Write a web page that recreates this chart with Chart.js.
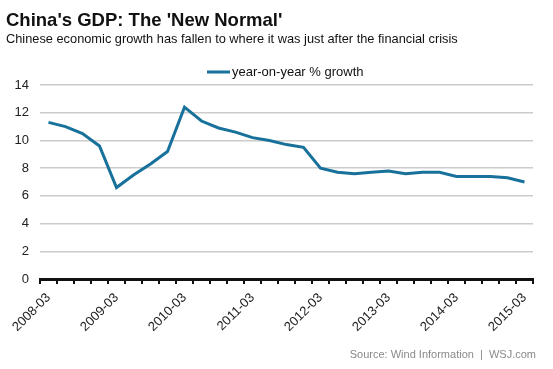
<!DOCTYPE html>
<html>
<head>
<meta charset="utf-8">
<script src="https://cdn.jsdelivr.net/npm/chart.js@4/dist/chart.umd.min.js"></script>
<style>
  html, body { margin: 0; padding: 0; background: #fff; }
</style>
</head>
<body>
<canvas id="chart" width="553" height="369"></canvas>
<script>
const title = "China's GDP: The 'New Normal'";
const subtitle = "Chinese economic growth has fallen to where it was just after the financial crisis";
const source = "Source: Wind Information  |  WSJ.com";

const quarters = [
  "2008-03", "2008-06", "2008-09", "2008-12",
  "2009-03", "2009-06", "2009-09", "2009-12",
  "2010-03", "2010-06", "2010-09", "2010-12",
  "2011-03", "2011-06", "2011-09", "2011-12",
  "2012-03", "2012-06", "2012-09", "2012-12",
  "2013-03", "2013-06", "2013-09", "2013-12",
  "2014-03", "2014-06", "2014-09", "2014-12",
  "2015-03"
];
const growth = [
  11.3, 11.0, 10.5, 9.6,
  6.6, 7.5, 8.3, 9.2,
  12.4, 11.4, 10.9, 10.6,
  10.2, 10.0, 9.7, 9.5,
  8.0, 7.7, 7.6, 7.7,
  7.8, 7.6, 7.7, 7.7,
  7.4, 7.4, 7.4, 7.3,
  7.0
];
const yMin = 0, yMax = 14, yStep = 2;

const FONT = '"Liberation Sans", Arial, sans-serif';
const lineColor = "#17719b";

// title, subtitle, legend and source line
const textPlugin = {
  id: "texts",
  afterDraw(chart) {
    const ctx = chart.ctx;
    const ds = chart.data.datasets[0];
    ctx.save();
    ctx.textBaseline = "alphabetic";
    ctx.textAlign = "left";
    ctx.fillStyle = "#111";
    ctx.font = "bold 18.5px " + FONT;
    ctx.fillText(title, 6, 26);
    ctx.font = "12.8px " + FONT;
    ctx.fillText(subtitle, 6, 43);

    // legend
    ctx.strokeStyle = ds.borderColor;
    ctx.lineWidth = 3;
    ctx.beginPath();
    ctx.moveTo(207, 72);
    ctx.lineTo(230, 72);
    ctx.stroke();
    ctx.font = "13px " + FONT;
    ctx.fillStyle = "#111";
    ctx.textBaseline = "middle";
    ctx.fillText(ds.label, 232, 72);

    ctx.textAlign = "right";
    ctx.fillStyle = "#8a8a8a";
    ctx.font = "11px " + FONT;
    ctx.fillText(source, 536, 355);
    ctx.restore();
  }
};

new Chart(document.getElementById("chart"), {
  type: "line",
  data: {
    labels: quarters,
    datasets: [{
      label: "year-on-year % growth",
      data: growth,
      borderColor: lineColor,
      backgroundColor: lineColor,
      borderWidth: 3,
      pointRadius: 0,
      tension: 0
    }]
  },
  options: {
    responsive: false,
    animation: false,
    devicePixelRatio: 1,
    layout: { padding: { top: 85, right: 20, bottom: 0, left: 0 } },
    plugins: {
      legend: { display: false },
      tooltip: { enabled: false }
    },
    scales: {
      x: {
        offset: true,
        grid: {
          offset: true,
          drawOnChartArea: false,
          drawTicks: true,
          tickLength: 5,
          color: "#111",
          lineWidth: 2
        },
        border: { display: true, color: "#111", width: 3 },
        ticks: {
          autoSkip: false,
          minRotation: 45,
          maxRotation: 45,
          padding: 6,
          color: "#222",
          font: { size: 13, family: FONT },
          callback: (v, i) => (i % 4 === 0 ? quarters[i] : "")
        },
        afterFit: s => { s.height = 90; }
      },
      y: {
        min: yMin,
        max: yMax,
        ticks: {
          stepSize: yStep,
          padding: 11,
          color: "#222",
          font: { size: 13, family: FONT }
        },
        grid: { color: "#cccccc", lineWidth: 1.5, drawTicks: false },
        border: { display: false },
        afterFit: s => { s.width = 40; }
      }
    }
  },
  plugins: [textPlugin]
});
</script>
</body>
</html>
